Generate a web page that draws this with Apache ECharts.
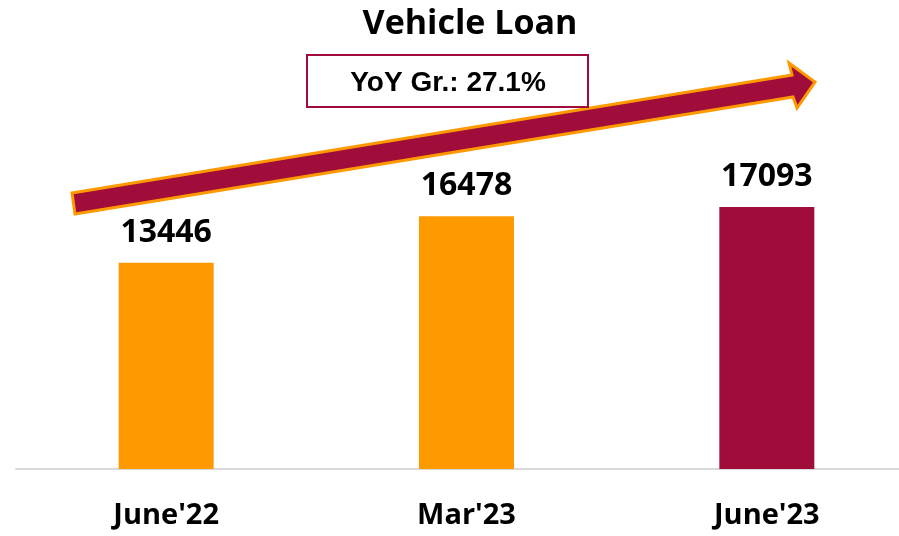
<!DOCTYPE html>
<html>
<head>
<meta charset="utf-8">
<title>Vehicle Loan</title>
<script src="https://cdn.jsdelivr.net/npm/echarts@6/dist/echarts.min.js"></script>
<style>
  html, body { margin: 0; padding: 0; background: #fff; overflow: hidden; }
  /* chart is a bit wider than the window so the last bar sits where the original has it */
  #chart { width: 917px; height: 536px; }
</style>
</head>
<body>
<div id="chart"></div>
<script>
// data
var periods = ["June'22", "Mar'23", "June'23"]
var loanValues = [13446, 16478, 17093]
var barColors = ['#FF9900', '#FF9900', '#A00D3A']
var yoyText = 'YoY Gr.: 27.1%'

var chart = echarts.init(document.getElementById('chart'))

chart.setOption({
  animation: false,
  title: {
    text: 'Vehicle Loan',
    left: 465,
    top: 2,
    textAlign: 'center',
    textStyle: {
      fontFamily: 'Open Sans',
      fontWeight: 'bold',
      fontSize: 34,
      color: '#000'
    }
  },
  grid: {
    left: 16,
    right: 0,
    top: 9,
    bottom: 67
  },
  xAxis: {
    type: 'category',
    data: periods,
    axisTick: { show: false },
    axisLine: { lineStyle: { color: '#d9d9d9', width: 2 } },
    axisLabel: {
      margin: 32,
      fontFamily: 'Open Sans',
      fontWeight: 'bold',
      fontSize: 29,
      color: '#000'
    }
  },
  yAxis: {
    type: 'value',
    min: 0,
    max: 30000,
    show: false,
    splitLine: { show: false }
  },
  series: [{
    type: 'bar',
    barWidth: 95,
    data: loanValues.map(function(v, i) {
      return { value: v, itemStyle: { color: barColors[i] } }
    }),
    label: {
      show: true,
      position: 'top',
      distance: 14,
      fontFamily: 'Open Sans',
      fontWeight: 'bold',
      fontSize: 32,
      color: '#000'
    }
  }],
  graphic: [
    // growth arrow
    {
      type: 'polygon',
      z: 10,
      shape: {
        points: [[72, 193], [792, 75], [789, 63], [815, 82], [797, 108], [793, 97], [75, 214]]
      },
      style: { fill: '#A00D3A', stroke: '#FF9900', lineWidth: 3, lineJoin: 'miter' }
    },
    // yoy box
    {
      type: 'rect',
      z: 11,
      shape: { x: 307, y: 55, width: 281, height: 52 },
      style: { fill: '#fff', stroke: '#A00D3A', lineWidth: 2 }
    },
    {
      type: 'text',
      z: 12,
      x: 448,
      y: 83,
      style: {
        text: yoyText,
        align: 'center',
        verticalAlign: 'middle',
        fontFamily: 'Liberation Sans',
        fontWeight: 'bold',
        fontSize: 28,
        fill: '#000'
      }
    }
  ]
})
</script>
</body>
</html>
